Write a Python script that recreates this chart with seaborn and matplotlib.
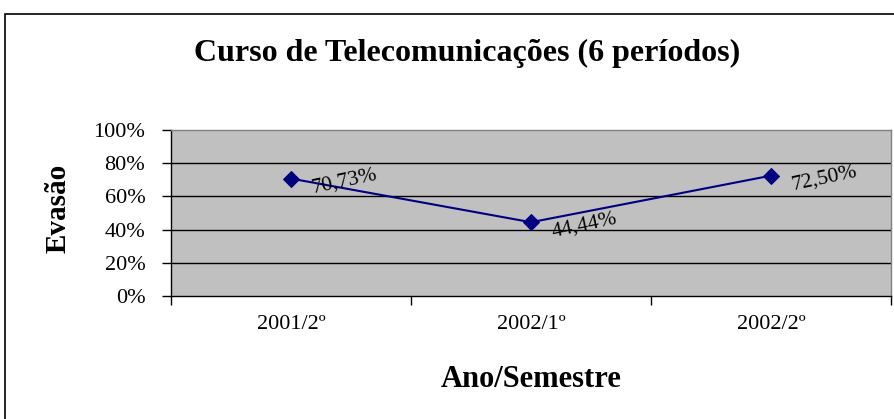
import matplotlib.pyplot as plt
import matplotlib.patches as mpatches
import seaborn as sns
import pandas as pd

# data
periods = ['2001/2º', '2002/1º', '2002/2º']
evasao = [70.73, 44.44, 72.50]
labels = ['70,73%', '44,44%', '72,50%']
y_ticks = [0, 20, 40, 60, 80, 100]

sns.set_style('white')
plt.rcParams['font.family'] = ['Liberation Serif', 'DejaVu Serif']
plt.rcParams['text.color'] = 'black'
plt.rcParams['xtick.color'] = 'black'
plt.rcParams['ytick.color'] = 'black'
plt.rcParams['axes.labelcolor'] = 'black'

df = pd.DataFrame({'pos': range(len(periods)), 'Evasão': evasao})

fig = plt.figure(figsize=(8.94, 4.19), dpi=100)
ax = fig.add_axes([171 / 894, 1 - 296 / 419, 720 / 894, 166 / 419])
ax.set_facecolor('#c0c0c0')

sns.lineplot(data=df, x='pos', y='Evasão', ax=ax, color='#000080', linewidth=1.5,
             marker='D', markersize=8, markeredgecolor='#000080')

for i, (v, t) in enumerate(zip(evasao, labels)):
    ax.annotate(t, (i, v), xytext=(15, -7), textcoords='offset points', ha='left', va='center',
                rotation=12, rotation_mode='anchor', fontsize=15.5, color='black')

ax.set_xlim(-0.5, len(periods) - 0.5)
ax.set_ylim(0, 100)
ax.set_yticks(y_ticks)
ax.set_yticklabels(['%d%%' % t for t in y_ticks], fontsize=16)
ax.set_xticks([-0.5, 0.5, 1.5, 2.5])
ax.set_xticklabels([])
ax.set_xticks(range(len(periods)), minor=True)
ax.set_xticklabels(periods, minor=True, fontsize=16)
ax.tick_params(axis='x', which='minor', length=0, pad=14)
ax.tick_params(axis='x', which='major', length=6.5, width=1, direction='out')
ax.tick_params(axis='y', length=6.5, width=1, direction='out', pad=12)
ax.tick_params(left=True, bottom=True)

for y in y_ticks[1:-1]:
    ax.axhline(y, color='black', linewidth=1, zorder=1)

for s in ['left', 'bottom']:
    ax.spines[s].set_color('black')
    ax.spines[s].set_linewidth(1)
for s in ['top', 'right']:
    ax.spines[s].set_color('#808080')
    ax.spines[s].set_linewidth(1)

ax.set_xlabel('Ano/Semestre', fontsize=22, fontweight='bold')
ax.xaxis.set_label_coords(0.5, -0.5)
ax.xaxis.label.set_va('center')
ax.set_ylabel('Evasão', fontsize=21, fontweight='bold')
ax.yaxis.set_label_coords(-0.157, 0.53)
ax.yaxis.label.set_va('center')

fig.text(467 / 894, 1 - 53 / 419, 'Curso de Telecomunicações (6 períodos)', ha='center', va='center',
         fontsize=23, fontweight='bold')

# outer chart frame
fig.patches.append(mpatches.Rectangle((5 / 894, -0.01), 0.995, 1 - 14 / 419 + 0.01, transform=fig.transFigure,
                                      fill=False, edgecolor='black', linewidth=1.2))

fig.savefig('out.png', dpi=100)
